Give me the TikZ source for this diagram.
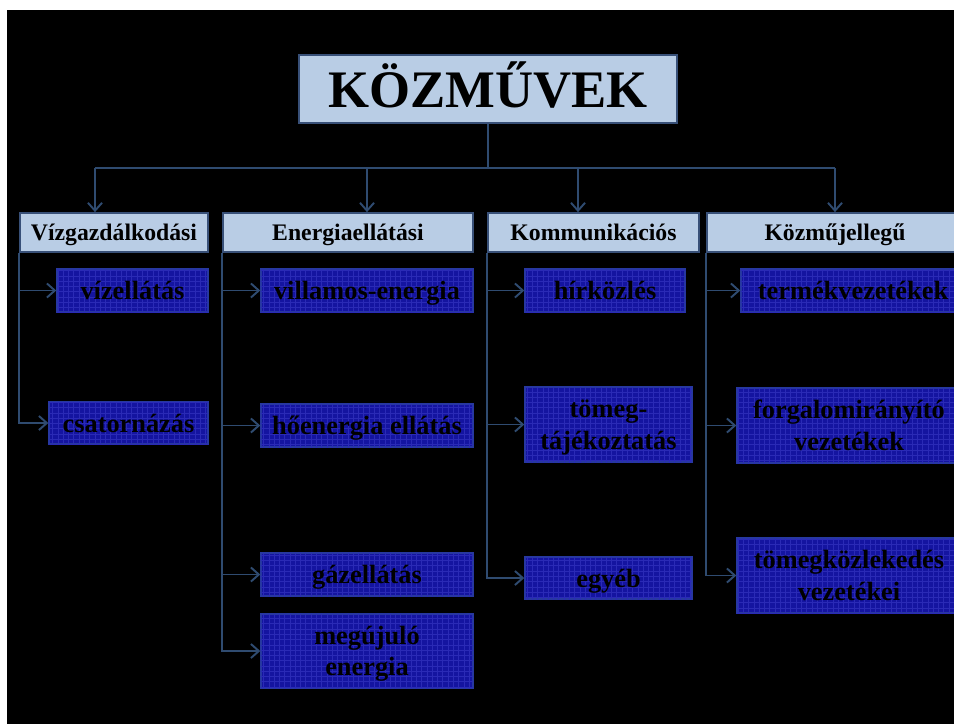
\documentclass[tikz,border=0pt]{standalone}
\usepackage{fontspec}
\setmainfont{Liberation Serif}
\usepackage{xcolor}
\usetikzlibrary{arrows.meta,patterns}
\definecolor{headblue}{RGB}{185,205,229}
\definecolor{edgeblue}{RGB}{56,80,120}
\definecolor{itemblue}{RGB}{20,20,160}
\definecolor{itemgrid}{RGB}{42,42,182}
\definecolor{linkblue}{RGB}{47,75,112}

\begin{document}
\begin{tikzpicture}[
  head/.style={draw=edgeblue, line width=1pt, fill=headblue, inner sep=0pt,
    minimum height=0.78cm, text depth=0pt, font=\bfseries\fontsize{13.5}{15}\selectfont},
  item/.style={draw=edgeblue!70!blue, line width=0.8pt, fill=itemblue,
    postaction={pattern=grid, pattern color=itemgrid}, inner sep=0pt, text depth=0pt,
    align=center, text=black, font=\bfseries\fontsize{15}{18}\selectfont},
  link/.style={draw=linkblue, line width=1.1pt},
  arr/.style={link, -{Straight Barb[length=4.5pt,width=8pt]}}
]
\useasboundingbox (0,0) rectangle (19.08,-14.48);
\clip (0,0) rectangle (19.08,-14.48);
\fill[white] (0,0) rectangle (19.08,-14.48);
\fill[black] (0.14,-0.2) rectangle (19.08,-14.48);

% title and groups
\node[head, minimum width=7.56cm, minimum height=1.36cm, text height=21pt,
  font=\bfseries\fontsize{30}{36}\selectfont] (kozmuvek) at (9.76,-1.78) {KÖZMŰVEK};
\node[head, minimum width=3.76cm] (viz) at (2.28,-4.65) {Vízgazdálkodási};
\node[head, minimum width=5cm] (energia) at (6.96,-4.65) {Energiaellátási};
\node[head, minimum width=4.22cm] (komm) at (11.87,-4.65) {Kommunikációs};
\node[head, minimum width=5.12cm] (kozmu) at (16.7,-4.65) {Közműjellegű};

% items
\node[item, minimum width=3.02cm, minimum height=0.86cm] (vizell) at (2.65,-5.81) {vízellátás};
\node[item, minimum width=3.18cm, minimum height=0.84cm] (csator) at (2.57,-8.46) {csatornázás};
\node[item, minimum width=4.24cm, minimum height=0.86cm] (villamos) at (7.34,-5.81) {villamos-energia};
\node[item, minimum width=4.24cm, minimum height=0.86cm] (hoenergia) at (7.34,-8.51) {hőenergia ellátás};
\node[item, minimum width=4.24cm, minimum height=0.86cm] (gaz) at (7.34,-11.49) {gázellátás};
\node[item, minimum width=4.24cm, minimum height=1.48cm] (megujulo) at (7.34,-13.02) {megújuló\\energia};
\node[item, minimum width=3.2cm, minimum height=0.86cm] (hirkozles) at (12.1,-5.81) {hírközlés};
\node[item, minimum width=3.34cm, minimum height=1.5cm] (tomegtaj) at (12.17,-8.49) {tömeg-\\tájékoztatás};
\node[item, minimum width=3.34cm, minimum height=0.84cm] (egyeb) at (12.17,-11.56) {egyéb};
\node[item, minimum width=4.48cm, minimum height=0.86cm] (termek) at (17.06,-5.81) {termékvezetékek};
\node[item, minimum width=4.48cm, minimum height=1.5cm] (forgalom) at (16.98,-8.51) {forgalomirányító\\vezetékek};
\node[item, minimum width=4.48cm, minimum height=1.5cm] (tomegkoz) at (16.98,-11.51) {tömegközlekedés\\vezetékei};

% connectors
\coordinate (bus) at (9.76,-3.36);
\draw[link] (kozmuvek.south) -- (bus);
\foreach \c/\x in {viz/1.9, energia/7.34, komm/11.56, kozmu/16.7} {
  \coordinate (t\c) at (\x,-3.36);
  \draw[arr] (t\c) -- (t\c |- \c.north);
}
\draw[link] (tviz) -- (tkozmu);
\foreach \c/\k in {viz/vizell, viz/csator, energia/villamos, energia/hoenergia,
  energia/gaz, energia/megujulo, komm/hirkozles, komm/tomegtaj, komm/egyeb,
  kozmu/termek, kozmu/forgalom, kozmu/tomegkoz}
  \draw[arr] (\c.south west) |- (\k.west);
\end{tikzpicture}
\end{document}
